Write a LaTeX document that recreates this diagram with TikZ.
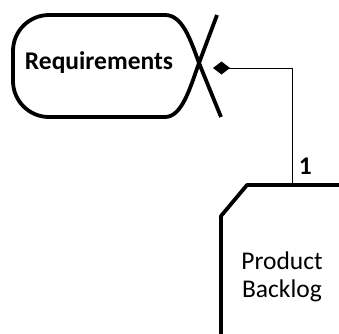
\documentclass[tikz,border=0pt]{standalone}
\usepackage{fontspec}
\setmainfont{Carlito}
\usetikzlibrary{arrows.meta}

\begin{document}
\begin{tikzpicture}[x=1pt,y=-1pt,
    outline/.style={line width=3.8pt,line join=round},
    label/.style={font=\fontsize{25.5}{30}\selectfont,align=center}]
    \useasboundingbox (0,0) rectangle (339,333);

    % requirements
    \draw[outline,rounded corners=36pt] (165,117) -- (13,117) -- (13,15) -- (165,15);
    \draw[outline] (165,15) .. controls (182,15) and (190,38) .. (199,63) -- (221,117);
    \draw[outline] (217,15) -- (199,63) .. controls (190,88) and (182,117) .. (165,117);
    \node[label,font=\fontsize{25.5}{30}\selectfont\bfseries] (req) at (99,63) {Requirements};
    \coordinate (reqend) at (213,68);

    % product backlog
    \draw[outline] (345,185) -- (247,185) -- (221,216) -- (221,340);
    \node[label] (pb) at (282,277) {Product\\[-2pt]Backlog};
    \coordinate (pbtop) at (292,185);

    % link
    \draw[line width=1pt,{Diamond[length=17pt,width=13pt]}-] (reqend) -| (pbtop)
      node[pos=0.92,right=3pt,font=\fontsize{25.5}{30}\selectfont\bfseries] {1};
\end{tikzpicture}
\end{document}
